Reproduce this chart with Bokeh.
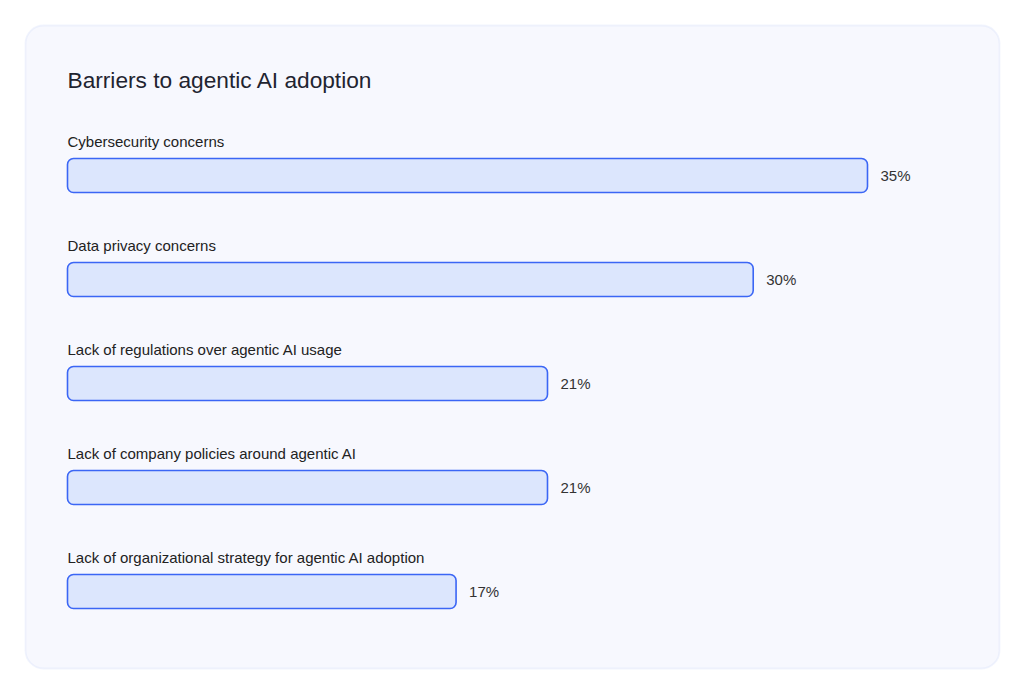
from bokeh.plotting import figure
from bokeh.models import Range1d, BoxAnnotation, ColumnDataSource
from bokeh.core.properties import value
from bokeh.embed import file_html
from bokeh.resources import INLINE

categories = [
    "Cybersecurity concerns",
    "Data privacy concerns",
    "Lack of regulations over agentic AI usage",
    "Lack of company policies around agentic AI",
    "Lack of organizational strategy for agentic AI adoption",
]
values = [35, 30, 21, 21, 17]
value_labels = ["35%", "30%", "21%", "21%", "17%"]
title_text = "Barriers to agentic AI adoption"

W, H = 1008, 677
px_per_unit = 800 / 35.0
x0_px = 67
row_px = 104
y0_px = 175

x_start = -x0_px / px_per_unit
x_end = (W - x0_px) / px_per_unit
y_top = -y0_px / row_px
y_bottom = (H - y0_px) / row_px

p = figure(width=W, height=H, output_backend="svg", toolbar_location=None,
           x_range=Range1d(x_start, x_end), y_range=Range1d(y_bottom, y_top),
           min_border=0, min_border_left=0, min_border_right=0,
           min_border_top=0, min_border_bottom=0)
p.axis.visible = False
p.grid.visible = False
p.outline_line_color = None
p.background_fill_color = "#ffffff"
p.border_fill_color = "#ffffff"

# screen y units are measured from the bottom of the canvas
card = BoxAnnotation(left=25, right=999, top=H - 25, bottom=H - 668,
                     left_units="screen", right_units="screen",
                     top_units="screen", bottom_units="screen",
                     fill_color="#f7f8fe", fill_alpha=1.0,
                     line_color="#cfdcf8", line_width=1.8,
                     border_radius=18, level="underlay")
p.add_layout(card)

idx = list(range(len(categories)))
src = ColumnDataSource(dict(
    y=idx, v=values, lbl=value_labels, cat=categories,
    ylab=[i - 34.0 / row_px for i in idx],
))

p.hbar(y="y", left=0, right="v", height=34.0 / row_px, source=src,
       fill_color="#dce6fd", line_color="#3b66f5", line_width=1.6,
       border_radius=6)

p.text(x=0, y="ylab", text="cat", source=src,
       text_font=value("Liberation Sans"), text_font_size="15px",
       text_color="#222222", text_baseline="middle", text_align="left")

p.text(x="v", y="y", text="lbl", source=src, x_offset=13,
       text_font=value("Liberation Sans"), text_font_size="15px",
       text_color="#333333", text_baseline="middle", text_align="left")

title_src = ColumnDataSource(dict(x=[0], y=[-96.0 / row_px], t=[title_text]))
p.text(x="x", y="y", text="t", source=title_src,
       text_font=value("Liberation Sans"), text_font_size="22.7px",
       text_color="#1f2430", text_baseline="middle", text_align="left")

open("out.html", "w").write(file_html(p, INLINE))
